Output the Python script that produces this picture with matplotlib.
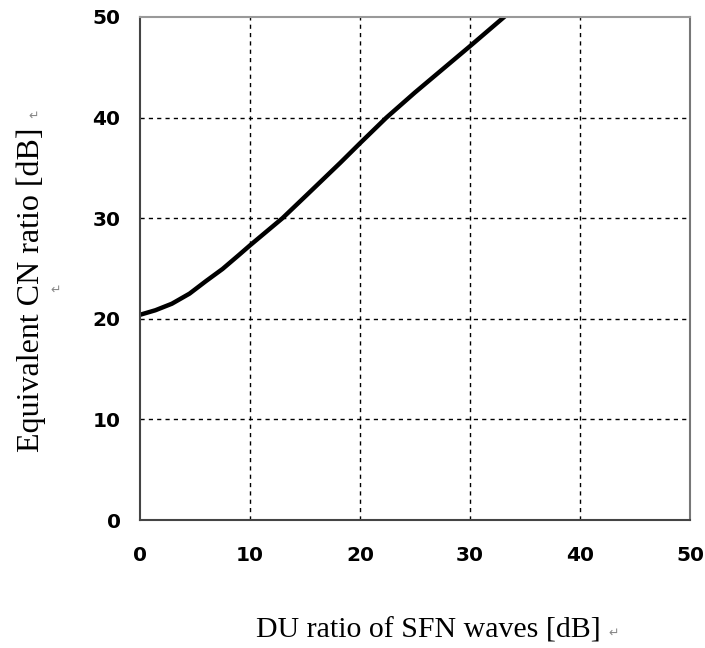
import matplotlib
matplotlib.use("Agg")
import matplotlib.pyplot as plt

du_ratio = [0, 1.4, 2.9, 4.5, 6.0, 7.5, 9.0, 10, 12.95, 15.2, 18.2, 20, 22.4, 25, 27.5, 30, 33.1]
cn_ratio = [20.4, 20.85, 21.5, 22.5, 23.75, 24.95, 26.35, 27.3, 30.0, 32.35, 35.5, 37.45, 40.0, 42.5, 44.8, 47.1, 50.0]
ticks = [0, 10, 20, 30, 40, 50]

fig = plt.figure(figsize=(7.05, 6.48), dpi=100)
ax = fig.add_axes([140/705, 1-520/648, 550/705, 503/648])
ax.set_axisbelow(True)
ax.plot(du_ratio, cn_ratio, color='black', lw=3.2, solid_joinstyle='round', clip_on=True)
ax.set_xlim(0, 50)
ax.set_ylim(0, 50)
ax.set_xticks(ticks)
ax.set_yticks(ticks)
ax.set_xticklabels([str(t) for t in ticks], fontsize=14.5, fontweight='bold', family='DejaVu Sans')
ax.set_yticklabels([str(t) for t in ticks], fontsize=14.5, fontweight='bold', family='DejaVu Sans')
ax.tick_params(axis='x', length=0, pad=19)
ax.tick_params(axis='y', length=0, pad=14)
ax.grid(True, color='black', linestyle=(0, (3, 3)), lw=1)
for gl in (ax.xaxis.get_gridlines()[0], ax.xaxis.get_gridlines()[-1],
           ax.yaxis.get_gridlines()[0], ax.yaxis.get_gridlines()[-1]):
    gl.set_visible(False)
for s in ax.spines.values():
    s.set_color('#444444')
    s.set_linewidth(1.5)
    s.set_zorder(3)
ax.spines['top'].set_color('#999999')
ax.spines['right'].set_color('#777777')

fig.text(428/705, 1-630/648, 'DU ratio of SFN waves [dB]', family='Liberation Serif',
         fontsize=21.5, ha='center', va='center')
fig.text(614/705, 1-633/648, '\u21b5', fontsize=9, color='#888888', ha='center', va='center')
fig.text(31/705, 1-290/648, 'Equivalent CN ratio [dB]', family='Liberation Serif',
         fontsize=23, ha='center', va='center', rotation=90)
fig.text(34/705, 1-116/648, '\u21b5', fontsize=9, color='#888888', ha='center', va='center')
fig.text(56/705, 1-290/648, '\u21b5', fontsize=9, color='#888888', ha='center', va='center')

fig.savefig('out.png', dpi=100)
